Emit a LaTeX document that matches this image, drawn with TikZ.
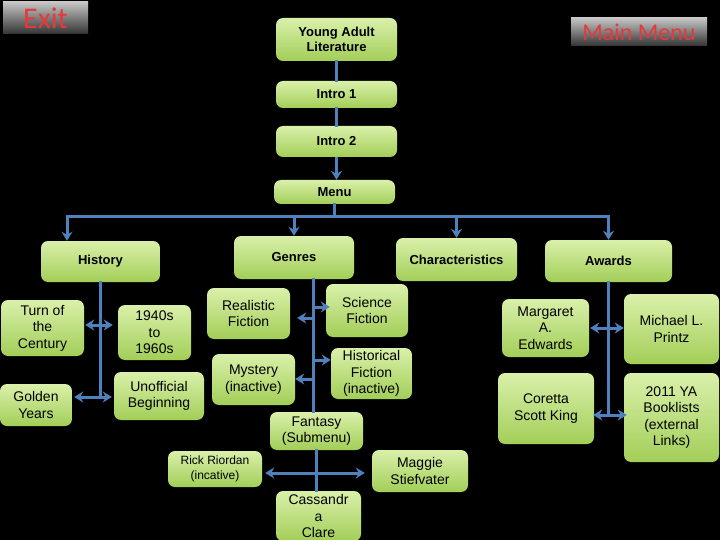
\documentclass[tikz,border=0pt]{standalone}
\usepackage{fontspec}
\setmainfont{Liberation Sans}
\newfontfamily\navfont{Carlito}
\usepackage{tikz}
\usetikzlibrary{arrows.meta,calc}
\usepackage{xcolor}
\definecolor{boxtop}{HTML}{DAF0AA}
\definecolor{boxbot}{HTML}{A2CE58}
\definecolor{linkblue}{HTML}{4F81BD}
\definecolor{navred}{HTML}{E8383A}
\definecolor{navtop}{HTML}{C6C6C6}
\definecolor{navbot}{HTML}{333333}

\tikzset{
  menubox/.style={rounded corners=7pt, top color=boxtop, bottom color=boxbot, align=center, inner sep=0pt},
  topbox/.style={menubox, font=\bfseries\fontsize{13}{15}\selectfont},
  subbox/.style={menubox, font=\fontsize{14}{16.5}\selectfont},
  smallbox/.style={menubox, font=\fontsize{12}{14.5}\selectfont},
  navbtn/.style={top color=navtop, bottom color=navbot, text=navred, inner sep=0pt},
  link/.style={draw=linkblue, line width=3pt, line cap=rect},
  toarrow/.style={link, line cap=butt, -{Stealth[length=9pt,width=11pt]}},
  botharrow/.style={link, line cap=butt, {Stealth[length=9pt,width=11pt]}-{Stealth[length=9pt,width=11pt]}}
}

\begin{document}
\begin{tikzpicture}[x=1pt, y=-1pt]
      \fill[black] (0,0) rectangle (720,540);
      \useasboundingbox (0,0) rectangle (720,540);

      % Buttons
      \node[navbtn, minimum width=85, minimum height=32, font=\navfont\fontsize{30}{31}\selectfont] (exit) at (45.5,18) {Exit};
      \node[navbtn, minimum width=136, minimum height=28, font=\navfont\fontsize{24}{25}\selectfont] (mainmenu) at (639,32) {Main Menu};

      % Intro column
      \node[topbox, minimum width=121, minimum height=43] (ya) at (336.5,39.5) {Young Adult\\Literature};
      \node[topbox, minimum width=121, minimum height=27] (introone) at (336.5,94.5) {Intro 1};
      \node[topbox, minimum width=121, minimum height=31] (introtwo) at (336.5,141.5) {Intro 2};
      \node[topbox, minimum width=121, minimum height=24] (menu) at (334.5,192) {Menu};

      % Sections
      \node[topbox, minimum width=119, minimum height=41] (history) at (100.5,261.5) {History};
      \node[topbox, minimum width=120, minimum height=43] (genres) at (294,257.5) {Genres};
      \node[topbox, minimum width=121, minimum height=43] (characteristics) at (456.5,259.5) {Characteristics};
      \node[topbox, minimum width=127, minimum height=42] (awards) at (608.5,261) {Awards};

      % History pages
      \node[subbox, minimum width=83, minimum height=56] (turn) at (42.5,328) {Turn of\\the\\Century};
      \node[subbox, minimum width=73, minimum height=55] (sixties) at (154.5,332.5) {1940s\\to\\1960s};
      \node[subbox, minimum width=72, minimum height=42] (golden) at (36,405) {Golden\\Years};
      \node[subbox, minimum width=90, minimum height=48] (unofficial) at (159,396) {Unofficial\\Beginning};

      % Genre pages
      \node[subbox, minimum width=83, minimum height=51] (realistic) at (248.5,313.5) {Realistic\\Fiction};
      \node[subbox, minimum width=82, minimum height=53] (science) at (367,310.5) {Science\\Fiction};
      \node[subbox, minimum width=83, minimum height=51] (mystery) at (253.5,379.5) {Mystery\\(inactive)};
      \node[subbox, minimum width=81, minimum height=51] (historical) at (371.5,373.5) {Historical\\Fiction\\(inactive)};
      \node[subbox, minimum width=93, minimum height=38] (fantasy) at (316.5,431) {Fantasy\\(Submenu)};
      \node[smallbox, minimum width=94, minimum height=36] (rick) at (215,469) {Rick Riordan\\(incative)};
      \node[subbox, minimum width=96, minimum height=42] (maggie) at (420,471) {Maggie\\Stiefvater};
      \node[subbox, minimum width=85, minimum height=50] (cassandra) at (318.5,516) {Cassandr\\a\\Clare};

      % Award pages
      \node[subbox, minimum width=87, minimum height=58] (margaret) at (545.5,328) {Margaret\\A.\\Edwards};
      \node[subbox, minimum width=95, minimum height=70] (printz) at (671.5,329) {Michael L.\\Printz};
      \node[subbox, minimum width=96, minimum height=71] (coretta) at (546,408.5) {Coretta\\Scott King};
      \node[subbox, minimum width=95, minimum height=89] (booklists) at (671.5,417.5) {2011 YA\\Booklists\\(external\\Links)};

      % Joints
      \coordinate (barw) at (67,217);
      \coordinate (bare) at (608.5,217);
      \coordinate (hjoin1) at (100.5,325);
      \coordinate (hjoin2) at (100.5,397);
      \coordinate (gspine) at (313,300);
      \coordinate (gsci) at (313,307);
      \coordinate (greal) at (313,318);
      \coordinate (ghist) at (313,360);
      \coordinate (gmys) at (313,379);
      \coordinate (fjoin) at (316.5,473);
      \coordinate (ajoin1) at (608.5,328);
      \coordinate (ajoin2) at (608.5,415);

      % Intro links
      \draw[link] (ya) -- (introone);
      \draw[link] (introone) -- (introtwo);
      \draw[toarrow] (introtwo.south) -- (introtwo.south |- menu.north);

      % Menu bar
      \draw[link] (menu.south) -- (menu.south |- barw);
      \draw[link] (barw) -- (bare);
      \draw[toarrow] (barw) -- (history.north -| barw);
      \draw[toarrow] (genres.north |- barw) -- (genres.north);
      \draw[toarrow] (characteristics.north |- barw) -- (characteristics.north);
      \draw[toarrow] (bare) -- (awards.north);

      % History links
      \draw[link] (history.south) -- (hjoin2);
      \draw[botharrow] ($(turn.east |- hjoin1)+(1,0)$) -- ($(sixties.west |- hjoin1)+(-5,0)$);
      \draw[botharrow] ($(golden.east |- hjoin2)+(2,0)$) -- ($(unofficial.west |- hjoin2)+(-2,0)$);

      % Genre links
      \draw[link] (genres.south -| gspine) -- (fantasy.north -| gspine);
      \draw[toarrow] (gsci) -- ($(science.west |- gsci)+(4,0)$);
      \draw[toarrow] (greal) -- ($(realistic.east |- greal)+(7,0)$);
      \draw[toarrow] (ghist) -- (historical.west |- ghist);
      \draw[toarrow] (gmys) -- (mystery.east |- gmys);

      % Fantasy links
      \draw[link] (fantasy.south) -- (fantasy.south |- cassandra.north);
      \draw[botharrow] ($(rick.east |- fjoin)+(3,0)$) -- ($(maggie.west |- fjoin)+(-7,0)$);

      % Award links
      \draw[link] (awards.south) -- (ajoin2);
      \draw[botharrow] ($(margaret.east |- ajoin1)+(1,0)$) -- (printz.west |- ajoin1);
      \draw[botharrow] ($(coretta.east |- ajoin2)+(-1,0)$) -- ($(booklists.west |- ajoin2)+(3,0)$);
\end{tikzpicture}
\end{document}
